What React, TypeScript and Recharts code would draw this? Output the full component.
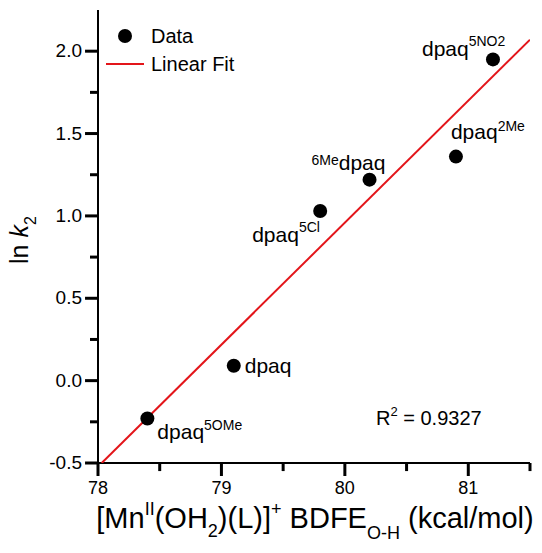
import React from 'react';
import { ScatterChart, Scatter, XAxis, YAxis, ReferenceLine } from 'recharts';

// BDFE (kcal/mol) vs ln k2 for the dpaq ligand series
const bdfe = [78.4, 79.1, 79.8, 80.2, 80.9, 81.2];
const lnK2 = [-0.23, 0.09, 1.03, 1.22, 1.36, 1.95];
const ligandTags = ['5OMe', '', '5Cl', '6Me', '2Me', '5NO2'];

// linear fit, read at the two ends of the plot
const fitX = [78.03, 81.5];
const fitY = [-0.5, 2.07];

const xTicks = [78, 78.5, 79, 79.5, 80, 80.5, 81, 81.5];
const xMajor = [78, 79, 80, 81];
const yTicks = [-0.5, -0.25, 0, 0.25, 0.5, 0.75, 1, 1.25, 1.5, 1.75, 2];
const yMajor = [-0.5, 0, 0.5, 1, 1.5, 2];

const X_DOMAIN: [number, number] = [78, 81.5];
const Y_DOMAIN: [number, number] = [-0.5, 2.25];

const FONT = '"Liberation Sans", Arial, sans-serif';
const RED = '#e3151a';

const W = 542;
const H = 553;
const M_TOP = 10;
const M_RIGHT = 12;
const Y_AXIS_W = 98;
const X_AXIS_H = 90;

// tick lengths in data units (about 13px major, 8px minor at this size)
const X_MAJOR_LEN = 0.079;
const X_MINOR_LEN = 0.049;
const Y_MAJOR_LEN = 0.105;
const Y_MINOR_LEN = 0.065;

const points = bdfe.map((x, i) => ({ x, y: lnK2[i], tag: ligandTags[i] }));
const fitLine = fitX.map((x, i) => ({ x, y: fitY[i] }));

// where each label sits relative to its dot
const labelPlace: Record<string, { dx: number; dy: number; pre?: boolean; rise: number }> = {
  '5OMe': { dx: 10, dy: 20, rise: 9 },
  '': { dx: 11, dy: 7, rise: 0 },
  '5Cl': { dx: -68, dy: 31, rise: 10 },
  '6Me': { dx: -58, dy: -10, pre: true, rise: 5 },
  '2Me': { dx: -5, dy: -18, rise: 8 },
  '5NO2': { dx: -71, dy: -3, rise: 10 },
};

const DataDot = (props: any) => {
  const { cx, cy, payload } = props;
  const p = labelPlace[payload.tag];
  return (
    <g>
      <circle cx={cx} cy={cy} r={7} fill="#000" />
      <text x={cx + p.dx} y={cy + p.dy} fontSize={21} fontFamily={FONT} fill="#000">
        {p.pre ? (
          <>
            <tspan fontSize={14} dy={-p.rise}>{payload.tag}</tspan>
            <tspan fontSize={21} dy={p.rise}>dpaq</tspan>
          </>
        ) : (
          <>
            <tspan>dpaq</tspan>
            {payload.tag && <tspan fontSize={14} dy={-p.rise}>{payload.tag}</tspan>}
          </>
        )}
      </text>
    </g>
  );
};

const renderXTick = (props: any) => {
  const { x, y, payload } = props;
  if (!xMajor.includes(payload.value)) return <g key={`xt-${payload.value}`} />;
  return (
    <text key={`xt-${payload.value}`} x={Number(x)} y={Number(y) + 31} textAnchor="middle" fontSize={18} fontFamily={FONT} fill="#000">
      {payload.value}
    </text>
  );
};

const renderYTick = (props: any) => {
  const { x, y, payload } = props;
  if (!yMajor.includes(payload.value)) return <g key={`yt-${payload.value}`} />;
  return (
    <text key={`yt-${payload.value}`} x={Number(x) - 16} y={Number(y) + 6} textAnchor="end" fontSize={19} fontFamily={FONT} fill="#000">
      {payload.value.toFixed(1)}
    </text>
  );
};

export default function App() {
  return (
    <div style={{ position: 'absolute', left: 0, top: 0, width: W, height: H, background: '#fff' }}>
      <ScatterChart width={W} height={H} margin={{ top: M_TOP, right: M_RIGHT, bottom: 0, left: 0 }}>
        <XAxis
          dataKey="x"
          type="number"
          domain={X_DOMAIN}
          ticks={xTicks}
          interval={0}
          height={X_AXIS_H}
          tickSize={0}
          tickMargin={0}
          tickLine={false}
          tick={renderXTick}
          axisLine={{ stroke: '#000', strokeWidth: 2 }}
          allowDataOverflow
        />
        <XAxis
          xAxisId="top"
          orientation="top"
          type="number"
          domain={X_DOMAIN}
          height={0}
          tick={false}
          tickLine={false}
          axisLine={{ stroke: '#777', strokeWidth: 1 }}
        />
        <YAxis
          dataKey="y"
          type="number"
          domain={Y_DOMAIN}
          ticks={yTicks}
          interval={0}
          width={Y_AXIS_W}
          tickSize={0}
          tickMargin={0}
          tickLine={false}
          tick={renderYTick}
          axisLine={{ stroke: '#000', strokeWidth: 2 }}
          allowDataOverflow
        />
        <YAxis
          yAxisId="right"
          orientation="right"
          type="number"
          domain={Y_DOMAIN}
          width={0}
          tick={false}
          tickLine={false}
          axisLine={{ stroke: '#000', strokeWidth: 2 }}
        />
        {xTicks.map((v) => (
          <ReferenceLine
            key={`xm-${v}`}
            segment={[
              { x: v, y: Y_DOMAIN[0] },
              { x: v, y: Y_DOMAIN[0] - (xMajor.includes(v) ? X_MAJOR_LEN : X_MINOR_LEN) },
            ]}
            ifOverflow="visible"
            stroke="#000"
            strokeWidth={3}
          />
        ))}
        {yTicks.map((v) => (
          <ReferenceLine
            key={`ym-${v}`}
            segment={[
              { x: X_DOMAIN[0], y: v },
              { x: X_DOMAIN[0] - (yMajor.includes(v) ? Y_MAJOR_LEN : Y_MINOR_LEN), y: v },
            ]}
            ifOverflow="visible"
            stroke="#000"
            strokeWidth={3}
          />
        ))}
        <Scatter
          data={fitLine}
          line={{ stroke: RED, strokeWidth: 2 }}
          shape={() => null}
          isAnimationActive={false}
        />
        <Scatter data={points} shape={<DataDot />} isAnimationActive={false} />
      </ScatterChart>
      <svg
        width={W}
        height={H}
        style={{ position: 'absolute', left: 0, top: 0, pointerEvents: 'none' }}
        fontFamily={FONT}
      >
        {/* legend */}
        <circle cx={125} cy={36} r={7} fill="#000" />
        <text x={151} y={43} fontSize={20}>Data</text>
        <line x1={106} x2={144} y1={64} y2={64} stroke={RED} strokeWidth={2} />
        <text x={151} y={71} fontSize={20}>Linear Fit</text>

        <text x={376} y={425} fontSize={20}>
          R<tspan fontSize={13} dy={-9}>2</tspan>
          <tspan dy={9}> = 0.9327</tspan>
        </text>

        <text x={28} y={264} fontSize={25} transform="rotate(-90 28 264)">
          ln <tspan fontStyle="italic">k</tspan>
          <tspan fontSize={16} dy={8}>2</tspan>
        </text>

        <text x={315} y={528} fontSize={29} textAnchor="middle">
          [Mn<tspan fontSize={18} dy={-13}>II</tspan>
          <tspan dy={13}>(OH</tspan>
          <tspan fontSize={18} dy={9}>2</tspan>
          <tspan dy={-9}>)(L)]</tspan>
          <tspan fontSize={18} dy={-13}>+</tspan>
          <tspan dy={13}> BDFE</tspan>
          <tspan fontSize={18} dy={11}>O-H</tspan>
          <tspan dy={-11}> (kcal/mol)</tspan>
        </text>
      </svg>
    </div>
  );
}
